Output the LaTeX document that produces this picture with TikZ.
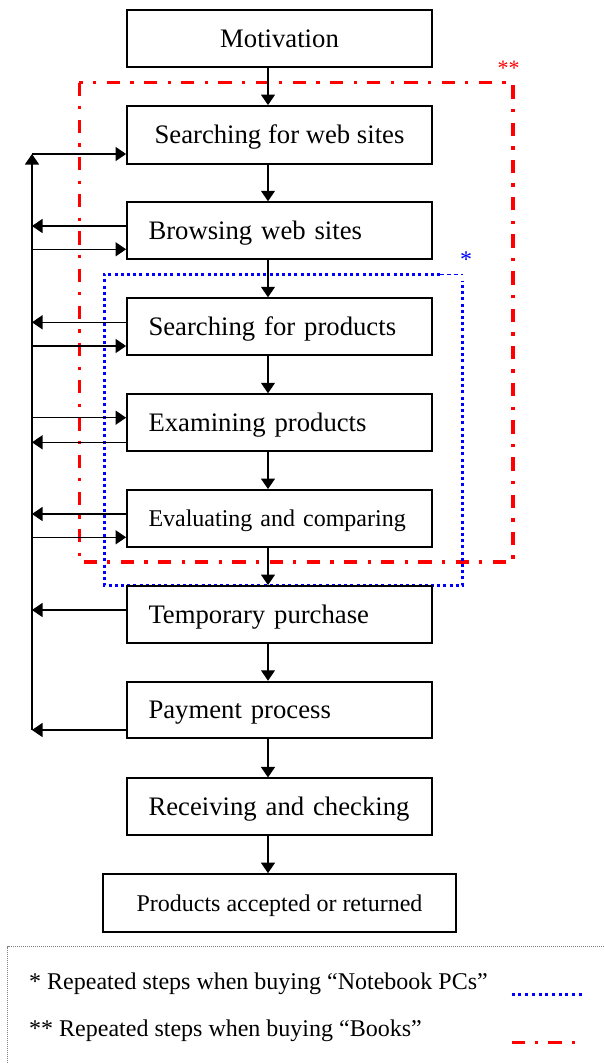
\documentclass[tikz,border=0pt]{standalone}
\usepackage{fontspec}
\setmainfont{Liberation Serif}
\usetikzlibrary{arrows.meta}
\newcommand\stepfont{\fontsize{26.7pt}{32pt}\selectfont}
\newcommand\smallstepfont{\fontsize{24pt}{29pt}\selectfont}
\tikzset{
  stepbox/.style={draw, line width=1.8pt, minimum width=305pt, minimum height=56.7pt,
    inner sep=0pt, font=\stepfont, text height=17.6pt, text depth=0pt},
  smallbox/.style={font=\smallstepfont, text height=15.9pt},
  lefttext/.style={text width=262pt, align=left},
  tip/.style={-{Triangle[length=10.5pt,width=14pt]}},
  arr/.style={line width=1.3pt, tip},
  spine/.style={line width=1.3pt},
  booksline/.style={red, line width=3.2pt,
    dash pattern=on 13.3pt off 10.3pt on 3.3pt off 10.3pt},
  pcline/.style={blue, line width=3pt, dash pattern=on 3pt off 3.2pt},
  legendtext/.style={font=\smallstepfont, inner sep=0pt, anchor=base west},
}
\begin{document}
\begin{tikzpicture}[x=1pt, y=-1pt]
\useasboundingbox (0,0) rectangle (604,1063);

% repeated-step frames
\draw[booksline] (79.4,82.5) rectangle (513,562);
\draw[pcline] (440,274) -- (104.3,274) -- (104.3,585) -- (462.5,585) -- (462.5,281);
\draw[blue, line width=0.8pt, dash pattern=on 4pt off 3pt] (440,274.5) -- (463,274.5);
\node[red, font=\fontsize{22pt}{26pt}\selectfont, inner sep=0pt, anchor=base west] (books) at (497.5,75.3) {**};
\node[blue, font=\smallstepfont, inner sep=0pt, anchor=base] (pcs) at (466,267.3) {*};

% process steps
\node[stepbox] (mot) at (279.5,38.3) {Motivation};
\node[stepbox, minimum height=58pt] (sws) at (279.5,135) {Searching for web sites};
\node[stepbox, lefttext] (bws) at (279.5,230.5) {Browsing web sites};
\node[stepbox, lefttext] (sfp) at (279.5,326.5) {Searching for products};
\node[stepbox, lefttext] (exp) at (279.5,422.5) {Examining products};
\node[stepbox, lefttext, smallbox] (eva) at (279.5,518.3) {Evaluating and comparing};
\node[stepbox, lefttext] (tmp) at (279.5,614.3) {Temporary purchase};
\node[stepbox, lefttext] (pay) at (279.5,710) {Payment process};
\node[stepbox, lefttext] (rec) at (279.5,806.7) {Receiving and checking};
\node[stepbox, smallbox, minimum width=352.3pt, minimum height=58.3pt] (pro) at (279.5,903.2) {Products accepted or returned};

% main flow
\coordinate (ax) at (268,0);
\foreach \a/\b in {mot/sws, sws/bws, bws/sfp, sfp/exp, exp/eva, eva/tmp, tmp/pay, pay/rec, rec/pro}
  \draw[arr] (\a.south -| ax) -- (\b.north -| ax);

% feedback spine
\coordinate (spt) at (32,154);
\coordinate (spb) at (32,730);
\draw[spine, tip] (spb) -- (spt);
\draw[arr] (spt) -- (sws.west |- spt);

\coordinate (b1) at (32,226);
\coordinate (b2) at (32,249.3);
\coordinate (s1) at (32,322.3);
\coordinate (s2) at (32,346);
\coordinate (e1) at (32,417.7);
\coordinate (e2) at (32,442.3);
\coordinate (v1) at (32,514);
\coordinate (v2) at (32,537.3);
\coordinate (t1) at (32,610);

\draw[arr] (bws.west |- b1) -- (b1);
\draw[arr] (b2) -- (bws.west |- b2);
\draw[arr] (sfp.west |- s1) -- (s1);
\draw[arr] (s2) -- (sfp.west |- s2);
\draw[arr] (e1) -- (exp.west |- e1);
\draw[arr] (exp.west |- e2) -- (e2);
\draw[arr] (eva.west |- v1) -- (v1);
\draw[arr] (v2) -- (eva.west |- v2);
\draw[arr] (tmp.west |- t1) -- (t1);
\draw[arr] (pay.west |- spb) -- (spb);

% legend
\draw[gray, line width=0.7pt, dash pattern=on 1pt off 1pt] (7.5,1063) -- (7.5,946.5) -- (604,946.5);
\node[legendtext] (l1) at (29,989.3) {* Repeated steps when buying “Notebook PCs”};
\node[legendtext] (l2) at (29,1036.7) {** Repeated steps when buying “Books”};
\draw[blue, line width=3pt, dash pattern=on 3pt off 3.7pt] (511.7,994) -- (583,994);
\draw[red, line width=3.2pt, dash pattern=on 13.3pt off 10pt on 3.3pt off 10pt] (511.7,1042.3) -- (576,1042.3);
\end{tikzpicture}
\end{document}
